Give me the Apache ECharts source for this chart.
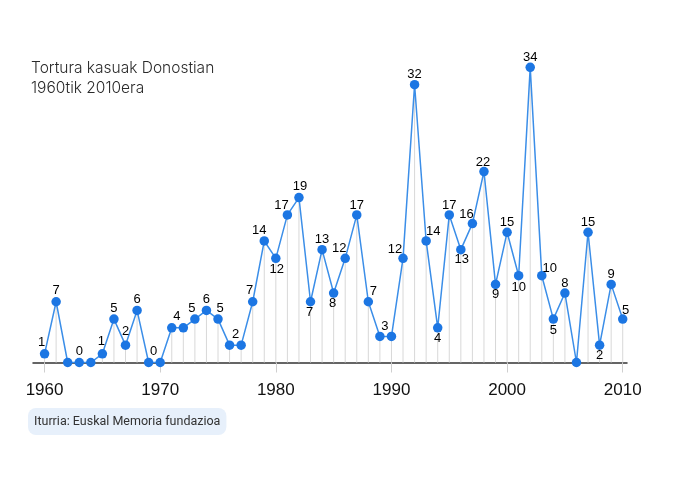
<!DOCTYPE html>
<html>
<head>
<meta charset="utf-8">
<script src="https://cdn.jsdelivr.net/npm/echarts@6/dist/echarts.min.js"></script>
<style>
html,body{margin:0;padding:0;background:#fff;}
#chart{width:680px;height:481px;}
</style>
</head>
<body>
<div id="chart"></div>
<script>
const years = [1960,1961,1962,1963,1964,1965,1966,1967,1968,1969,
               1970,1971,1972,1973,1974,1975,1976,1977,1978,1979,
               1980,1981,1982,1983,1984,1985,1986,1987,1988,1989,
               1990,1991,1992,1993,1994,1995,1996,1997,1998,1999,
               2000,2001,2002,2003,2004,2005,2006,2007,2008,2009,2010];
const cases = [1,7,0,0,0,1,5,2,6,0,
               0,4,4,5,6,5,2,2,7,14,
               12,17,19,7,13,8,12,17,7,3,
               3,12,32,14,4,17,13,16,22,9,
               15,10,34,10,5,8,0,15,2,9,5];
const tickYears = [1960,1970,1980,1990,2000,2010];
const titleLines = ['Tortura kasuak Donostian', '1960tik 2010era'];
const sourceText = 'Iturria: Euskal Memoria fundazioa';

// label placement (offset of label centre from point), missing = no label
const labelOffsets = {
  1960:[-3,-11],1961:[0,-11],1963:[0,-11],1965:[-1,-12],1966:[0,-11],1967:[0,-14],1968:[0,-11],
  1969:[5,-11],1971:[5,-11],1973:[-3,-11],1974:[0,-11],1975:[2,-11],1976:[6,-11],
  1978:[-3,-11],1979:[-5,-11],1980:[1,11],1981:[-6,-10],1982:[1,-11],1983:[-1,11],
  1984:[0,-10],1985:[-1,10],1986:[-6,-10],1987:[0,-10],1988:[5,-10],1989:[5,-10],
  1991:[-8,-9],1992:[0,-10],1993:[7,-10],1994:[0,11],1995:[0,-10],1996:[1,10],
  1997:[-6,-9],1998:[-1,-9],1999:[0,10],2000:[0,-10],2001:[0,12],2002:[0,-10],
  2003:[8,-7],2004:[0,11],2005:[0,-10],2007:[0,-10],2008:[0,10],2009:[0,-10],2010:[3,-9]
};

const lineData = years.map((y, i) => {
  const off = labelOffsets[y];
  return {
    value: [y, cases[i]],
    label: off ? {show: true, offset: off} : {show: false}
  };
});
const barData = years.map((y, i) => [y, cases[i]]);

const chart = echarts.init(document.getElementById('chart'), null, {renderer: 'canvas'});
chart.setOption({
  animation: false,
  backgroundColor: '#ffffff',
  title: [{
    text: titleLines.join('\n'),
    left: 31, top: 58, padding: 0,
    textStyle: {fontFamily: 'Inter', fontWeight: 300, fontSize: 15.5, lineHeight: 20, color: '#2a2a2a'}
  }, {
    text: sourceText,
    left: 28, top: 408, padding: [6, 6],
    backgroundColor: '#e7f0fb', borderRadius: 8,
    textStyle: {fontFamily: 'Roboto', fontWeight: 400, fontSize: 12.5, lineHeight: 15, color: '#333'}
  }],
  grid: {left: 33, right: 53, top: 50, bottom: 118.5, containLabel: false},
  xAxis: {
    type: 'value', min: 1959, max: 2010.37,
    axisLine: {show: true, onZero: true, lineStyle: {color: '#333', width: 1.5}},
    axisTick: {show: true, customValues: tickYears, length: 10, inside: false, lineStyle: {color: '#cfcfcf', width: 1}},
    axisLabel: {customValues: tickYears, margin: 19, fontFamily: 'Liberation Sans', fontSize: 17, color: '#111', formatter: v => String(v)},
    splitLine: {show: false}
  },
  yAxis: {
    type: 'value', min: 0, max: 36, show: false, splitLine: {show: false}
  },
  series: [{
    type: 'bar', data: barData, barWidth: 1, z: 1,
    itemStyle: {color: '#d8d8d8'}, silent: true
  }, {
    type: 'line', data: lineData, z: 3,
    symbol: 'circle', symbolSize: 9.5,
    lineStyle: {color: '#3b8ee8', width: 1.5},
    itemStyle: {color: '#1c76e3'},
    label: {position: 'inside', color: '#000', fontFamily: 'Liberation Sans', fontSize: 13, align: 'center', verticalAlign: 'middle', formatter: p => String(p.value[1])}
  }]
});
</script>
</body>
</html>
